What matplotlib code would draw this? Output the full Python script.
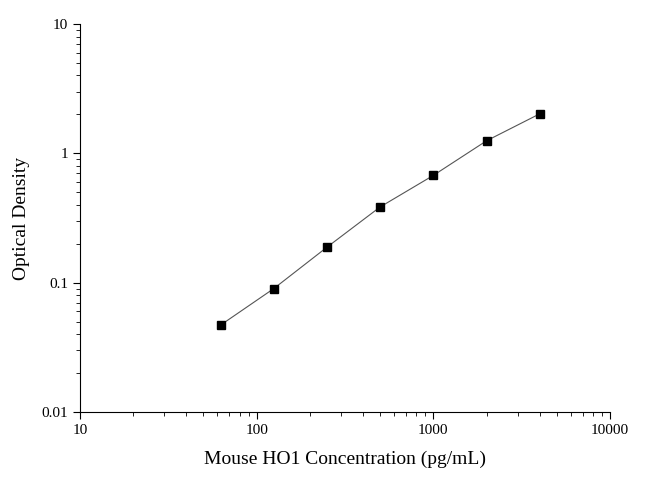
import matplotlib
matplotlib.use("Agg")
import matplotlib.pyplot as plt

plt.rcParams['font.family'] = ['Liberation Serif', 'DejaVu Serif']

conc = [62.5, 125, 250, 500, 1000, 2000, 4000]
od = [0.047, 0.090, 0.188, 0.385, 0.675, 1.25, 2.02]

fig = plt.figure(figsize=(6.5, 4.87), dpi=100)
ax = fig.add_axes([80 / 650, 1 - 412 / 487, 530 / 650, 388 / 487])
ax.plot(conc, od, color='#555555', lw=0.8)
ax.plot(conc, od, 's', color='black', ms=6)
ax.set_xscale('log')
ax.set_yscale('log')
ax.set_xlim(10, 10000)
ax.set_ylim(0.01, 10)
ax.set_xticks([10, 100, 1000, 10000])
ax.set_xticklabels(['10', '100', '1000', '10000'])
ax.set_yticks([0.01, 0.1, 1, 10])
ax.set_yticklabels(['0.01', '0.1', '1', '10'])
ax.spines['top'].set_visible(False)
ax.spines['right'].set_visible(False)
ax.tick_params(which='major', direction='out', length=5, labelsize=11)
ax.tick_params(which='minor', direction='out', length=3)
ax.set_xlabel('Mouse HO1 Concentration (pg/mL)', fontsize=14, labelpad=10)
ax.set_ylabel('Optical Density', fontsize=14, labelpad=8)

fig.savefig('out.png', dpi=100)
